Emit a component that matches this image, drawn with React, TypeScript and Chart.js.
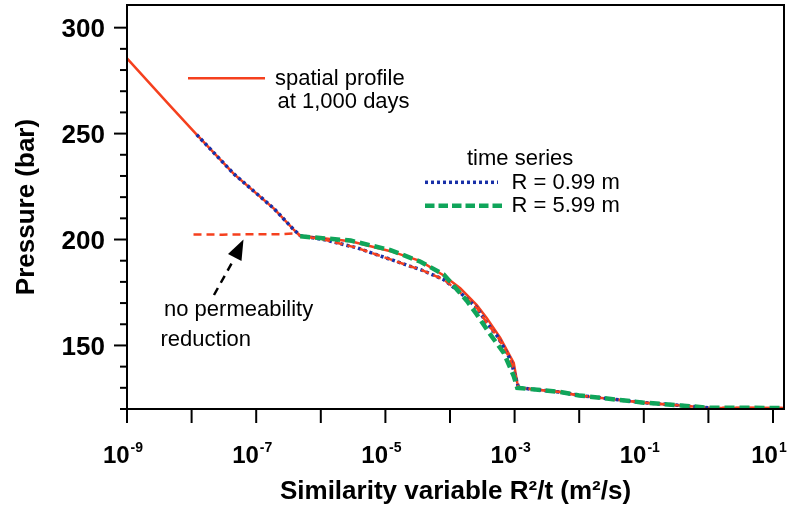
import React, { useEffect, useRef } from 'react';
import { Chart, registerables } from 'chart.js';

Chart.register(...registerables);

// ---------- data ----------
const profileX = [1e-9, 4.7e-9, 1.2e-8, 4.5e-8, 1.9e-7, 3.8e-7, 4.8e-7, 2.9e-6, 1.2e-5, 3.5e-5, 8.0e-5, 1.44e-4, 2.6e-4, 3.7e-4, 6.0e-4, 9.7e-4, 1.1e-3, 1.15e-3, 5.1e-3, 1.0e-2, 0.1, 0.37, 1.0, 15];
const profileY = [285.5, 263.0, 249.5, 231.0, 214.5, 204.7, 201.8, 199.2, 194.5, 189.8, 183.0, 177.0, 169.0, 163.0, 153.6, 141.8, 132.4, 130.0, 128.0, 126.4, 123.0, 121.7, 120.6, 120.5];

const noPermX = [1.07e-8, 3e-8, 1e-7, 2.5e-7, 4.3e-7, 4.8e-7, 1.1e-6, 3.6e-6, 1.2e-5, 2.4e-5, 3.5e-5, 8.0e-5, 1.44e-4, 2.6e-4, 3.7e-4, 5.4e-4, 8.6e-4, 1.1e-3, 1.15e-3, 5.1e-3, 1.0e-2, 0.1, 0.37, 1.0, 15];
const noPermY = [202.4, 202.3, 202.5, 202.5, 203.0, 201.7, 200.0, 196.1, 190.6, 187.4, 185.8, 181.1, 174.9, 167.8, 160.7, 154.4, 143.4, 132.4, 130.0, 128.0, 126.4, 123.0, 121.7, 120.6, 120.5];

const r099X = [1.2e-8, 4.5e-8, 1.9e-7, 3.8e-7, 4.8e-7, 1.1e-6, 3.6e-6, 1.2e-5, 2.4e-5, 3.5e-5, 8.0e-5, 1.44e-4, 2.6e-4, 3.7e-4, 5.4e-4, 8.6e-4, 1.1e-3, 1.15e-3, 5.1e-3, 1.0e-2, 0.1, 0.37, 1.0];
const r099Y = [249.5, 231.0, 214.5, 204.7, 201.8, 200.0, 196.1, 190.6, 187.4, 185.8, 181.1, 174.9, 167.8, 160.7, 154.4, 143.4, 132.4, 130.0, 128.0, 126.4, 123.0, 121.7, 120.6];

const r599X = [4.8e-7, 2.9e-6, 1.2e-5, 3.5e-5, 8.0e-5, 1.83e-4, 2.6e-4, 4.2e-4, 6.8e-4, 9.7e-4, 1.1e-3, 5.1e-3, 1.0e-2, 0.1, 0.37, 1.0, 15];
const r599Y = [201.5, 199.5, 195.0, 189.5, 183.5, 171.0, 164.6, 155.2, 146.5, 135.5, 130.0, 128.0, 126.4, 123.0, 121.7, 120.6, 120.5];

const xDecades = [1e-9, 1e-8, 1e-7, 1e-6, 1e-5, 1e-4, 1e-3, 1e-2, 1e-1, 1, 10];
const xLabelExps = [-9, -7, -5, -3, -1, 1];
const yTicks = [120, 130, 140, 150, 160, 170, 180, 190, 200, 210, 220, 230, 240, 250, 260, 270, 280, 290, 300];
const yLabels = [150, 200, 250, 300];

const X_MIN = 1e-9;
const X_MAX = 14.8;
const Y_MIN = 120;
const Y_MAX = 310.7;

// ---------- styles ----------
const RED = '#f5401e';
const BLUE = '#1830a8';
const GREEN = '#10a55a';
const FONT = '"Liberation Sans", Arial, Helvetica, sans-serif';

const pts = (xs: number[], ys: number[]) => xs.map((x, i) => ({ x, y: ys[i] }));

const decorPlugin = {
  id: 'decor',
  beforeDraw(chart: any) {
    const c = chart.ctx;
    c.save();
    c.fillStyle = '#ffffff';
    c.fillRect(0, 0, chart.width, chart.height);
    c.restore();
  },
  afterDatasetsDraw(chart: any) {
    const c: CanvasRenderingContext2D = chart.ctx;
    const { left, right, top, bottom } = chart.chartArea;
    const xs = chart.scales.x;
    const ys = chart.scales.y;
    c.save();
    c.strokeStyle = '#000';
    c.fillStyle = '#000';
    c.setLineDash([]);
    // frame
    c.lineWidth = 2;
    c.strokeRect(left, top, right - left, bottom - top);

    // y ticks
    c.lineWidth = 2;
    ys.ticks.forEach((t: any) => {
      const y = ys.getPixelForValue(t.value);
      const len = t.value % 50 === 0 ? 13 : 7;
      c.beginPath();
      c.moveTo(left - len, y);
      c.lineTo(left, y);
      c.stroke();
    });
    c.font = `bold 26px ${FONT}`;
    c.textAlign = 'right';
    c.textBaseline = 'alphabetic';
    yLabels.forEach((v) => {
      const y = ys.getPixelForValue(v);
      c.fillText(String(v), left - 22, y + 9.3);
    });

    // x ticks
    xs.ticks.forEach((t: any) => {
      const x = xs.getPixelForValue(t.value);
      c.beginPath();
      c.moveTo(x, bottom);
      c.lineTo(x, bottom + 14);
      c.stroke();
    });
    xLabelExps.forEach((e) => {
      const x = xs.getPixelForValue(Math.pow(10, e));
      const sup = String(e);
      c.font = `bold 24px ${FONT}`;
      const w10 = c.measureText('10').width;
      c.font = `bold 14px ${FONT}`;
      const ws = c.measureText(sup).width;
      const total = w10 + 1 + ws;
      const x0 = x - 4 - total / 2;
      c.textAlign = 'left';
      c.font = `bold 24px ${FONT}`;
      c.fillText('10', x0, bottom + 54);
      c.font = `bold 14px ${FONT}`;
      c.fillText(sup, x0 + w10 + 1, bottom + 42.5);
    });

    // axis titles
    c.font = `bold 26px ${FONT}`;
    c.textAlign = 'center';
    c.fillText('Similarity variable R\u00b2/t (m\u00b2/s)', (left + right) / 2, 499);
    c.save();
    c.translate(34, (top + bottom) / 2);
    c.rotate(-Math.PI / 2);
    c.fillText('Pressure (bar)', 0, 0);
    c.restore();

    // annotations
    c.font = `22px ${FONT}`;
    c.textAlign = 'left';
    c.fillText('spatial profile', 275, 85);
    c.fillText('at 1,000 days', 277.5, 108);
    c.fillText('time series', 467, 165);
    c.fillText('R = 0.99 m', 511.5, 188.5);
    c.fillText('R = 5.99 m', 511.5, 211.5);
    c.fillText('no permeability', 164, 315.5);
    c.fillText('reduction', 160.5, 345.5);

    // legend samples
    c.lineCap = 'butt';
    c.strokeStyle = RED;
    c.lineWidth = 2.5;
    c.setLineDash([]);
    c.beginPath();
    c.moveTo(188, 78.3);
    c.lineTo(265, 78.3);
    c.stroke();

    c.strokeStyle = BLUE;
    c.lineWidth = 3.5;
    c.setLineDash([3, 3]);
    c.beginPath();
    c.moveTo(425, 182.3);
    c.lineTo(498, 182.3);
    c.stroke();

    c.strokeStyle = GREEN;
    c.lineWidth = 4.5;
    c.setLineDash([9.5, 4]);
    c.beginPath();
    c.moveTo(425, 205.7);
    c.lineTo(502, 205.7);
    c.stroke();

    // arrow
    c.strokeStyle = '#000';
    c.fillStyle = '#000';
    c.lineWidth = 2.5;
    c.setLineDash([8, 6]);
    c.beginPath();
    c.moveTo(214, 295);
    c.lineTo(234, 259);
    c.stroke();
    c.setLineDash([]);
    c.beginPath();
    c.moveTo(243.5, 239.5);
    c.lineTo(241.5, 261);
    c.lineTo(228, 254);
    c.closePath();
    c.fill();

    c.restore();
  },
};

export default function App() {
  const ref = useRef<HTMLCanvasElement>(null);
  useEffect(() => {
    document.body.style.margin = '0';
    const canvas = ref.current;
    if (!canvas) return;
    const chart = new Chart(canvas, {
      type: 'line',
      data: {
        datasets: [
          {
            label: 'R = 5.99 m',
            data: pts(r599X, r599Y),
            borderColor: GREEN,
            borderWidth: 4.5,
            borderDash: [10, 5],
            pointRadius: 0,
            tension: 0,
            fill: false,
          },
          {
            label: 'no permeability reduction',
            data: pts(noPermX, noPermY),
            borderColor: RED,
            borderWidth: 2.5,
            borderDash: [8, 5],
            pointRadius: 0,
            tension: 0,
            fill: false,
          },
          {
            label: 'R = 0.99 m',
            data: pts(r099X, r099Y),
            borderColor: BLUE,
            borderWidth: 3.5,
            borderDash: [3, 3],
            pointRadius: 0,
            tension: 0,
            fill: false,
          },
          {
            label: 'spatial profile at 1,000 days',
            data: pts(profileX, profileY),
            borderColor: RED,
            borderWidth: 2.5,
            pointRadius: 0,
            tension: 0,
            fill: false,
          },
        ],
      },
      options: {
        animation: false,
        responsive: false,
        devicePixelRatio: 1,
        parsing: false as any,
        normalized: true,
        layout: { padding: { left: 0, right: 9, top: 5, bottom: 0 } },
        plugins: {
          legend: { display: false },
          tooltip: { enabled: false },
        },
        scales: {
          x: {
            type: 'logarithmic',
            min: X_MIN,
            max: X_MAX,
            ticks: { display: false },
            grid: { display: false },
            border: { display: false },
            afterBuildTicks: (s: any) => {
              s.ticks = xDecades.map((v) => ({ value: v }));
            },
            afterFit: (s: any) => {
              s.height = 103;
            },
          },
          y: {
            type: 'linear',
            min: Y_MIN,
            max: Y_MAX,
            ticks: { display: false },
            grid: { display: false },
            border: { display: false },
            afterBuildTicks: (s: any) => {
              s.ticks = yTicks.map((v) => ({ value: v }));
            },
            afterFit: (s: any) => {
              s.width = 127;
            },
          },
        },
      } as any,
      plugins: [decorPlugin],
    });
    return () => chart.destroy();
  }, []);
  return (
    <div style={{ width: 793, height: 512 }}>
      <canvas ref={ref} width={793} height={512} style={{ display: 'block' }} />
    </div>
  );
}
